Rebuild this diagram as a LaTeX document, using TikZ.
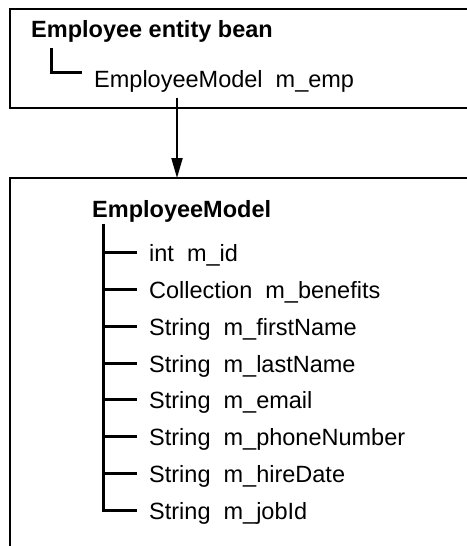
\documentclass[tikz,border=0pt]{standalone}
\usepackage{fontspec}
\setmainfont{Liberation Sans}
\usetikzlibrary{arrows.meta}
\begin{document}
\begin{tikzpicture}[x=1pt,y=-1pt,
  boxline/.style={line width=2pt},
  treeline/.style={line width=3pt,line join=miter},
  title/.style={anchor=base west,inner sep=0pt,font=\fontsize{23.5}{28}\selectfont\bfseries},
  member/.style={anchor=base west,inner sep=0pt,font=\fontsize{23.5}{28}\selectfont},
  link/.style={line width=2pt,-{Triangle[length=20pt,width=11pt]}}]
\useasboundingbox[fill=white] (0,0) rectangle (466,546);
% top box (open to the right)
\draw[boxline] (470,9) -- (10,9) -- (10,108) -- (470,108);
\node[title] (bean) at (31,37) {Employee entity bean};
\node[member] (emp) at (94,87) {EmployeeModel\ \ m\_emp};
\coordinate (e0) at (51.5,48);
\coordinate (e1) at (82,72.5);
\draw[treeline] (e0) |- (e1);
% arrow
\coordinate (a0) at (177,98);
\coordinate (a1) at (177,178);
\draw[link] (a0) -- (a1);
% bottom box (open right and bottom)
\draw[boxline] (470,178) -- (10,178) -- (10,550);
\node[title] (model) at (92,217) {EmployeeModel};
\coordinate (t0) at (103.5,224);
\foreach \i/\txt in {0/{int\ \ m\_id},1/{Collection\ \ m\_benefits},2/{String\ \ m\_firstName},3/{String\ \ m\_lastName},4/{String\ \ m\_email},5/{String\ \ m\_phoneNumber},6/{String\ \ m\_hireDate},7/{String\ \ m\_jobId}}{
  \pgfmathsetmacro{\yy}{round(252+36.86*\i)+0.5}
  \coordinate (b\i) at (103.5,\yy);
  \coordinate (c\i) at (137,\yy);
  \node[member] (f\i) at (149,\yy+8.5) {\txt};
  \draw[treeline] (b\i) -- (c\i);
}
\draw[treeline] (t0) |- (c7);
\end{tikzpicture}
\end{document}
